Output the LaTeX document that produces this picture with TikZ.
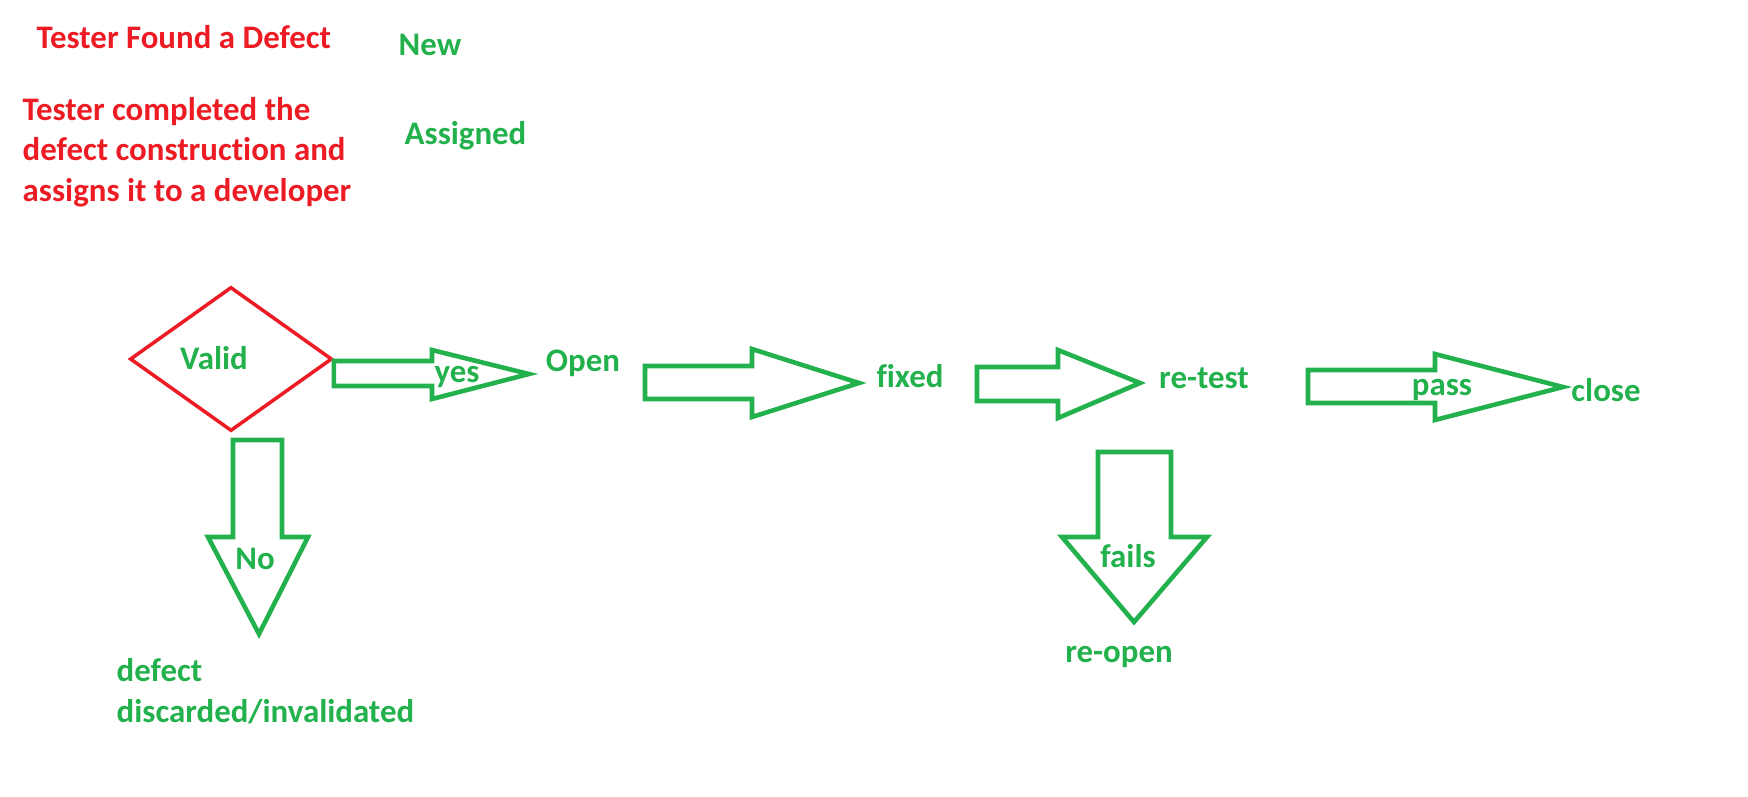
\documentclass[tikz,border=0pt]{standalone}
\usepackage{fontspec}
\setmainfont{Carlito}[Ligatures=CommonOff]
\usetikzlibrary{shapes.geometric}
\definecolor{paintred}{RGB}{237,28,36}
\definecolor{paintgreen}{RGB}{34,177,76}
\tikzstyle{redtext} = [text=paintred, font=\bfseries\fontsize{9.35}{11.4}\selectfont, inner sep=0pt, align=left]
\tikzstyle{greentext} = [text=paintgreen, font=\bfseries\fontsize{9.35}{11.4}\selectfont, inner sep=0pt, align=left]
\tikzstyle{decision} = [diamond, draw=paintred, line width=1pt, inner sep=0pt, minimum width=2.02cm, minimum height=1.44cm]
\tikzstyle{fatarrow} = [draw=paintgreen, line width=1.3pt, line join=miter]

\begin{document}
\begin{tikzpicture}[x=0.01cm, y=-0.01cm]
\useasboundingbox (0,0) rectangle (1748,796);

% header texts
\node (found) [redtext, anchor=base west] at (36,48) {Tester Found a Defect};
\node (new) [greentext, anchor=base west] at (398,55) {New};
\node (completed) [redtext, anchor=base west] at (22,201) {Tester completed the\\defect construction and\\assigns it to a developer};
\node (assigned) [greentext, anchor=base west] at (404,144) {Assigned};

% decision
\node (valid) [decision] at (231,359) {};
\node (validtxt) [greentext, anchor=base] at (214,369) {Valid};

% yes
\draw[fatarrow] (valid.east |- 0,361) -- (432,361) -- (432,350) -- (529,374)
  -- (432,399) -- (432,386) -- (valid.east |- 0,386) -- cycle;
\node (yes) [greentext, anchor=base] at (457,382) {yes};
\node (open) [greentext, anchor=base] at (583,371) {Open};

% open -> fixed
\draw[fatarrow] (645,366) -- (752,366) -- (752,349) -- (859,383)
  -- (752,417) -- (752,399) -- (645,399) -- cycle;
\node (fixed) [greentext, anchor=base] at (910,387) {fixed};

% fixed -> re-test
\draw[fatarrow] (977,367) -- (1058,367) -- (1058,350) -- (1140,383)
  -- (1058,418) -- (1058,401) -- (977,401) -- cycle;
\node (retest) [greentext, anchor=base] at (1204,388) {re-test};

% pass
\draw[fatarrow] (1308,370) -- (1435,370) -- (1435,354) -- (1563,387)
  -- (1435,420) -- (1435,403) -- (1308,403) -- cycle;
\node (pass) [greentext, anchor=base] at (1442,395) {pass};
\node (close) [greentext, anchor=base] at (1606,401) {close};

% no
\draw[fatarrow] (233,440) -- (282,440) -- (282,537) -- (308,537) -- (259,634)
  -- (208,537) -- (233,537) -- cycle;
\node (no) [greentext, anchor=base] at (255,569) {No};
\node (discarded) [greentext, anchor=base west] at (116,722) {defect\\discarded/invalidated};

% fails
\draw[fatarrow] (1098,452) -- (1171,452) -- (1171,537) -- (1207,537) -- (1134,622)
  -- (1062,537) -- (1098,537) -- cycle;
\node (fails) [greentext, anchor=base] at (1128,567) {fails};
\node (reopen) [greentext, anchor=base] at (1119,662) {re-open};
\end{tikzpicture}
\end{document}
